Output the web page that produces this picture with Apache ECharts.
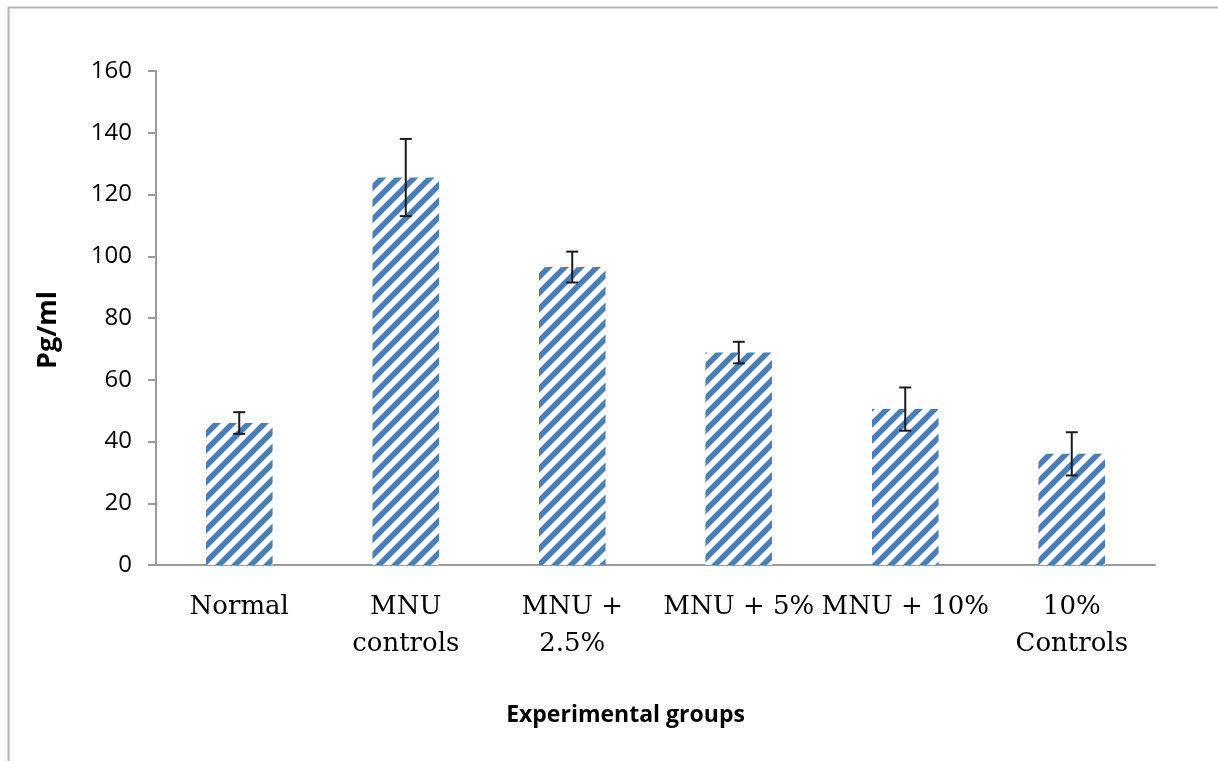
<!DOCTYPE html>
<html>
<head>
<meta charset="utf-8">
<script src="https://cdn.jsdelivr.net/npm/echarts@6/dist/echarts.min.js"></script>
<style>
  html, body { margin: 0; padding: 0; background: #fff; }
  #chart { width: 1218px; height: 761px; }
</style>
</head>
<body>
<div id="chart"></div>
<script>
// groups and measured values (Pg/ml)
const groups = ['Normal', 'MNU\ncontrols', 'MNU +\n2.5%', 'MNU + 5%', 'MNU + 10%', '10%\nControls'];
const means = [46, 125.5, 96.5, 68.8, 50.5, 36];
const errors = [3.5, 12.5, 5, 3.5, 7, 7];
const yTicks = [0, 20, 40, 60, 80, 100, 120, 140, 160];

// diagonal hatch, like Excel's wide upward diagonal fill
function makeHatch() {
  const size = 16;
  const c = document.createElement('canvas');
  c.width = size;
  c.height = size;
  const ctx = c.getContext('2d');
  ctx.fillStyle = '#ffffff';
  ctx.fillRect(0, 0, size, size);
  ctx.strokeStyle = '#4a7ebb';
  ctx.lineWidth = 5.6;
  ctx.lineCap = 'square';
  // lines run past the tile edges so corners join up when repeated
  for (let k = -2 * size; k <= 2 * size; k += size) {
    ctx.beginPath();
    ctx.moveTo(k - size, 2 * size);
    ctx.lineTo(k + 2 * size, -size);
    ctx.stroke();
  }
  return c;
}

const errData = means.map((m, i) => [i, m - errors[i], m + errors[i]]);

const chart = echarts.init(document.getElementById('chart'));
chart.setOption({
  animation: false,
  graphic: [{
    type: 'rect',
    left: 6,
    top: 5,
    shape: { width: 1400, height: 1000 },
    style: { fill: 'none', stroke: '#b4b4b4', lineWidth: 2 }
  }],
  grid: { left: 156, right: 63, top: 71, bottom: 196 },
  xAxis: {
    type: 'category',
    data: groups,
    name: 'Experimental groups',
    nameLocation: 'middle',
    nameGap: 139,
    nameTextStyle: {
      fontFamily: 'Open Sans', fontWeight: 'bold', fontSize: 23, color: '#000',
      padding: [0, 60, 0, 0]
    },
    axisLine: { lineStyle: { color: '#9a9a9a', width: 2 } },
    axisTick: { length: 10, lineStyle: { color: '#9a9a9a', width: 2 } },
    axisLabel: {
      interval: 0,
      margin: 24,
      fontFamily: 'DejaVu Serif',
      fontSize: 26,
      lineHeight: 37,
      color: '#000'
    }
  },
  yAxis: {
    type: 'value',
    min: yTicks[0],
    max: yTicks[yTicks.length - 1],
    interval: 20,
    name: 'Pg/ml',
    nameLocation: 'middle',
    nameGap: 94,
    nameTextStyle: {
      fontFamily: 'Open Sans', fontWeight: 'bold', fontSize: 27, color: '#000',
      padding: [0, 24, 0, 0]
    },
    axisLine: { show: true, lineStyle: { color: '#9a9a9a', width: 2 } },
    axisTick: { show: true, length: 8, lineStyle: { color: '#9a9a9a', width: 2 } },
    splitLine: { show: false },
    axisLabel: {
      margin: 24,
      fontFamily: 'Open Sans',
      fontSize: 24,
      color: '#000'
    }
  },
  series: [
    {
      type: 'bar',
      data: means,
      barWidth: '40%',
      itemStyle: { color: { image: makeHatch(), repeat: 'repeat' } }
    },
    {
      type: 'custom',
      data: errData,
      z: 5,
      renderItem: function (params, api) {
        const x = api.value(0);
        const lo = api.coord([x, api.value(1)]);
        const hi = api.coord([x, api.value(2)]);
        const cap = 6;
        const style = { stroke: '#1a1a1a', lineWidth: 2 };
        return {
          type: 'group',
          children: [
            { type: 'line', shape: { x1: lo[0], y1: lo[1], x2: hi[0], y2: hi[1] }, style: style },
            { type: 'line', shape: { x1: hi[0] - cap, y1: hi[1], x2: hi[0] + cap, y2: hi[1] }, style: style },
            { type: 'line', shape: { x1: lo[0] - cap, y1: lo[1], x2: lo[0] + cap, y2: lo[1] }, style: style }
          ]
        };
      }
    }
  ]
});
</script>
</body>
</html>
